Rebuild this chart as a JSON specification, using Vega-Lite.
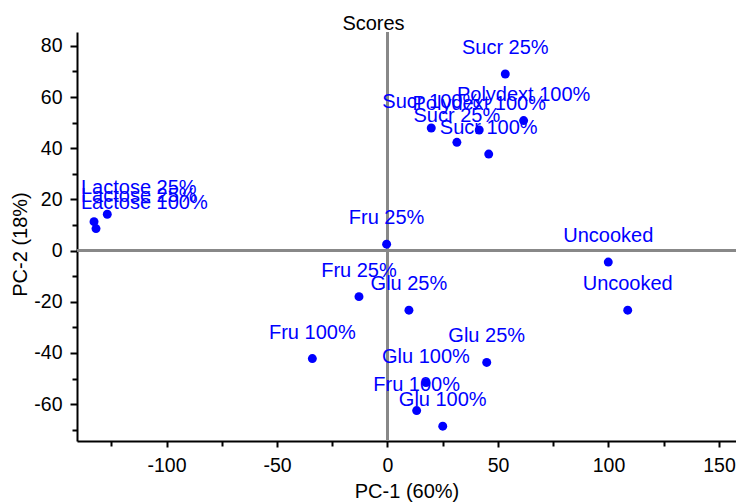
{
  "$schema": "https://vega.github.io/schema/vega-lite/v6.json",
  "width": 659,
  "height": 409,
  "autosize": {"type": "none"},
  "padding": {"left": 77, "top": 32, "right": 0, "bottom": 61},
  "background": "white",
  "config": {
    "view": {"stroke": null},
    "font": "Liberation Sans",
    "axis": {"grid": false, "domainColor": "black", "domainWidth": 2, "tickColor": "black", "tickWidth": 2, "labelColor": "black", "titleColor": "black", "labelFont": "Liberation Sans", "titleFont": "Liberation Sans", "titleFontWeight": "normal", "labelFontSize": 19.5, "titleFontSize": 20}
  },
  "title": {"text": "Scores", "frame": "bounds", "anchor": "middle", "fontSize": 20, "fontWeight": "normal", "font": "Liberation Sans", "color": "black", "baseline": "alphabetic", "offset": 4, "dy": 23},
  "data": {
    "values": [
      {"label": "Lactose 25%", "pc1": -126.8, "pc2": 14.2},
      {"label": "Lactose 25%", "pc1": -132.8, "pc2": 11.3},
      {"label": "Lactose 100%", "pc1": -131.9, "pc2": 8.6},
      {"label": "Sucr 25%", "pc1": 53.3, "pc2": 69.0},
      {"label": "Sucr 100%", "pc1": 19.8, "pc2": 47.9},
      {"label": "Polydext 100%", "pc1": 41.5, "pc2": 47.1},
      {"label": "Polydext 100%", "pc1": 61.6, "pc2": 50.8},
      {"label": "Sucr 25%", "pc1": 31.4, "pc2": 42.3},
      {"label": "Sucr 100%", "pc1": 45.8, "pc2": 37.7},
      {"label": "Fru 25%", "pc1": -0.4, "pc2": 2.5},
      {"label": "Uncooked", "pc1": 99.9, "pc2": -4.5},
      {"label": "Uncooked", "pc1": 108.7, "pc2": -23.3},
      {"label": "Fru 25%", "pc1": -12.9, "pc2": -18.0},
      {"label": "Glu 25%", "pc1": 9.7, "pc2": -23.3},
      {"label": "Fru 100%", "pc1": -34.0, "pc2": -42.2},
      {"label": "Glu 25%", "pc1": 44.9, "pc2": -43.7},
      {"label": "Glu 100%", "pc1": 17.4, "pc2": -51.6},
      {"label": "Fru 100%", "pc1": 13.2, "pc2": -62.5},
      {"label": "Glu 100%", "pc1": 25.0, "pc2": -68.6}
    ]
  },
  "encoding": {
    "x": {"field": "pc1", "type": "quantitative", "title": "PC-1 (60%)",
      "scale": {"domain": [-140.5, 157.7], "nice": false, "zero": false},
      "axis": {"values": [-125, -100, -75, -50, -25, 0, 25, 50, 75, 100, 125, 150], "labelExpr": "datum.value % 50 === 0 ? ('' + datum.value) : ''", "tickSize": {"condition": {"test": "datum.value % 50 === 0", "value": 6}, "value": 5}, "labelPadding": 24, "labelBaseline": "alphabetic", "titleBaseline": "alphabetic", "titleY": 56}},
    "y": {"field": "pc2", "type": "quantitative", "title": "PC-2 (18%)",
      "scale": {"domain": [-74.4, 85.4], "nice": false, "zero": false},
      "axis": {"values": [-70, -60, -50, -40, -30, -20, -10, 0, 10, 20, 30, 40, 50, 60, 70, 80], "labelExpr": "datum.value % 20 === 0 ? ('' + datum.value) : ''", "tickSize": {"condition": {"test": "datum.value % 20 === 0", "value": 7}, "value": 5}, "labelPadding": 8, "titleX": -57, "titleY": 212, "titleBaseline": "middle"}}
  },
  "layer": [
    {"mark": {"type": "rule", "color": "#888888", "strokeWidth": 2}, "encoding": {"x": {"datum": 0}, "y": null}},
    {"mark": {"type": "rule", "color": "#888888", "strokeWidth": 2}, "encoding": {"y": {"datum": 0}, "x": null}},
    {"mark": {"type": "circle", "color": "#0000ff", "size": 80, "opacity": 1}},
    {"transform": [{"filter": "slice(datum.label, 0, 7) !== 'Lactose'"}],
     "mark": {"type": "text", "color": "#0000ff", "fontSize": 20, "font": "Liberation Sans", "align": "center", "baseline": "alphabetic", "dy": -20},
     "encoding": {"text": {"field": "label"}}},
    {"transform": [{"filter": "slice(datum.label, 0, 7) === 'Lactose'"}],
     "mark": {"type": "text", "color": "#0000ff", "fontSize": 20, "font": "Liberation Sans", "align": "left", "baseline": "alphabetic", "dy": -20, "x": {"expr": "max(4, scale('x', datum.pc1) - 60)"}},
     "encoding": {"text": {"field": "label"}, "x": null}}
  ]
}
